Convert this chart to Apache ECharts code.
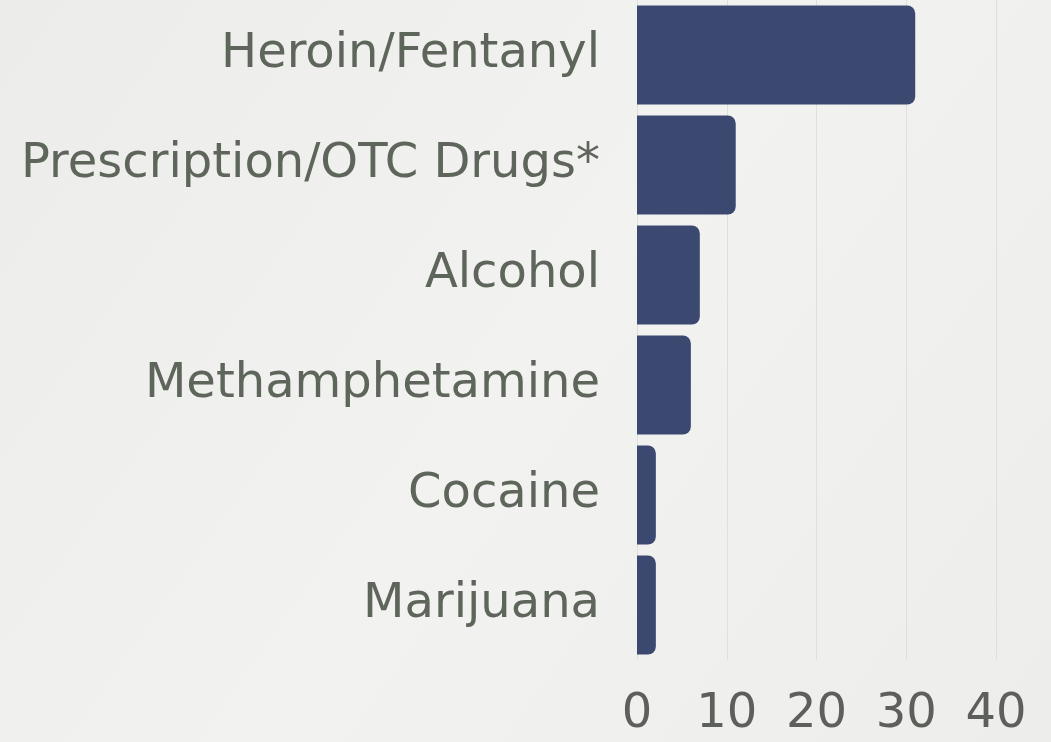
<!DOCTYPE html>
<html><head><meta charset="utf-8">
<script src="https://cdn.jsdelivr.net/npm/echarts@6/dist/echarts.min.js"></script>
<style>html,body{margin:0;padding:0;background:#efefed;}#c{width:1051px;height:742px;}</style>
</head><body><div id="c"></div>
<script>
const categories = ["Heroin/Fentanyl","Prescription/OTC Drugs*","Alcohol","Methamphetamine","Cocaine","Marijuana"];
const values = [31, 11, 7, 6, 2.1, 2.1];
const xTicks = [0, 10, 20, 30, 40];

const chart = echarts.init(document.getElementById('c'));
chart.setOption({
  backgroundColor: {type:'linear',x:0,y:0,x2:1,y2:1,colorStops:[{offset:0,color:'#ececea'},{offset:0.5,color:'#f2f2f0'},{offset:1,color:'#ededeb'}]},
  grid: {left: 637, right: 55, top: 0, bottom: 82, containLabel: false},
  xAxis: {
    type: 'value', min: xTicks[0], max: xTicks[xTicks.length-1], interval: 10,
    axisLine: {show: false}, axisTick: {show: false},
    splitLine: {show: true, lineStyle: {color: '#dfdfdd', width: 1}},
    axisLabel: {color: '#5d605a', fontSize: 48, fontFamily: 'DejaVu Sans', fontWeight: 'normal', margin: 31}
  },
  yAxis: {
    type: 'category', data: categories, inverse: true,
    axisLine: {show: false}, axisTick: {show: false},
    axisLabel: {color: '#5e665b', fontSize: 48, fontFamily: 'DejaVu Sans', margin: 37}
  },
  series: [{
    type: 'bar', data: values, barCategoryGap: '10%',
    itemStyle: {color: '#3b4870', borderRadius: [0, 8, 8, 0]}
  }]
});
</script></body></html>
